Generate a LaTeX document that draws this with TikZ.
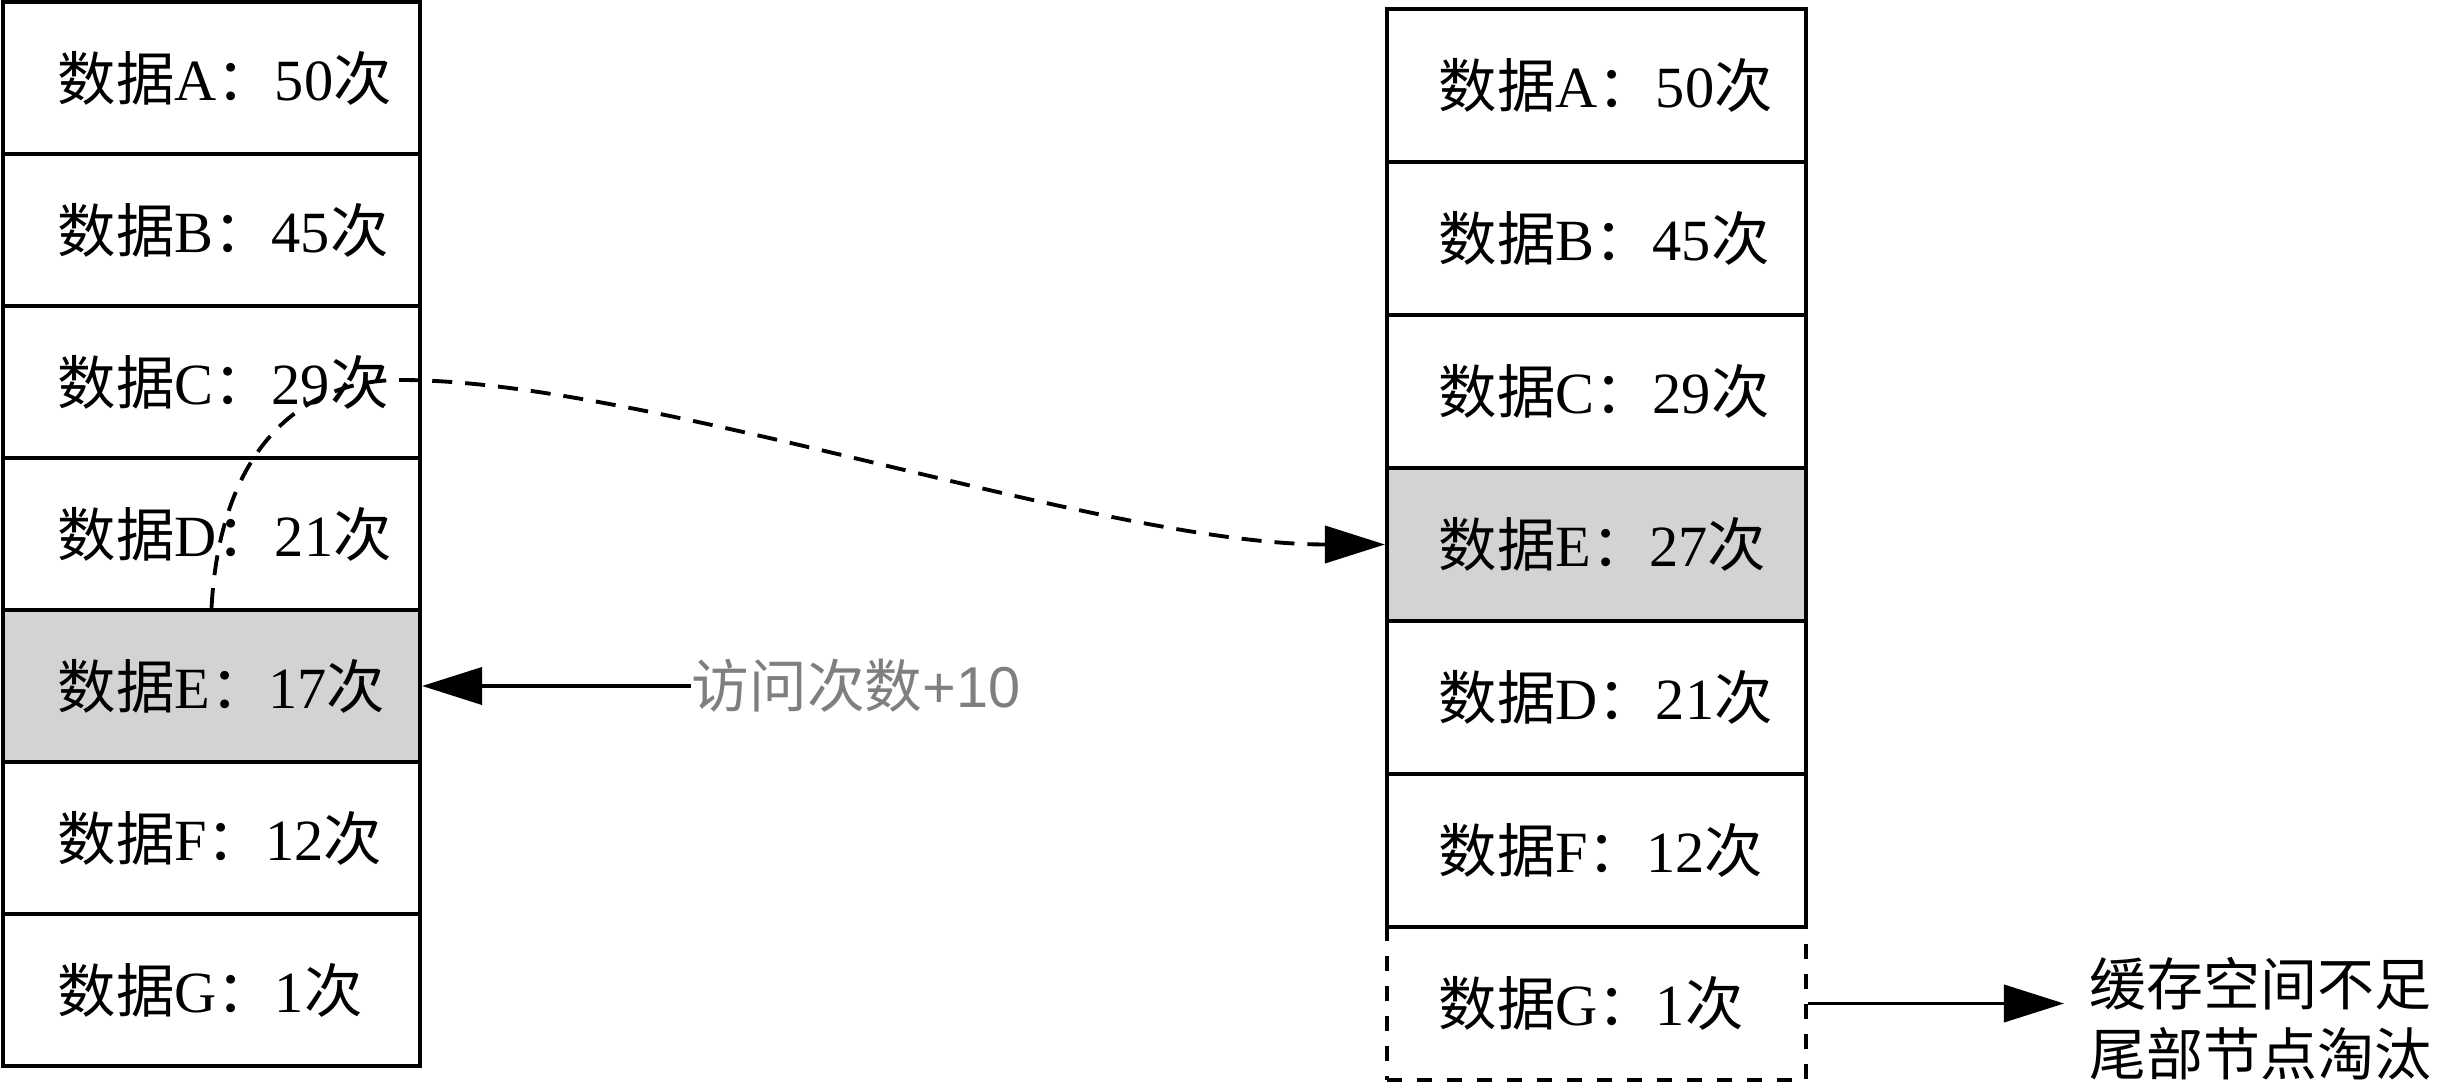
\documentclass[tikz,border=0pt]{standalone}
\usepackage{fontspec}
\setmainfont{Liberation Serif}
\newfontfamily\cjk{Noto Sans CJK SC}
\newfontfamily\labfont{Liberation Sans}
\usetikzlibrary{arrows.meta}
\definecolor{hotgray}{HTML}{D3D3D3}
\definecolor{labgray}{HTML}{7F7F7F}
\newcommand\dtxt[2]{{\cjk 数据}#1{\cjk ：}#2{\cjk 次}}
\begin{document}
\begin{tikzpicture}[x=0.01cm,y=-0.01cm,
  lcell/.style={draw=black, line width=1.1pt, minimum width=4.17cm, minimum height=1.52cm, inner sep=0pt},
  rcell/.style={draw=black, line width=1.1pt, minimum width=4.19cm, minimum height=1.53cm, inner sep=0pt},
  hot/.style={fill=hotgray},
  gone/.style={dash pattern=on 1.5mm off 1.5mm},
  ltxt/.style={anchor=west, inner sep=0pt, xshift=0.56cm, font=\fontsize{16.6pt}{20pt}\selectfont},
  rtxt/.style={anchor=west, inner sep=0pt, xshift=0.53cm, font=\fontsize{16.6pt}{20pt}\selectfont},
  arr/.style={line width=1.1pt, -{Triangle[length=6mm,width=3.7mm]}},
]
\useasboundingbox (0,0) rectangle (2439,1083);
% left column
\node[lcell] (L1) at (211.5,78) {};
\node[lcell] (L2) at (211.5,230) {};
\node[lcell] (L3) at (211.5,382) {};
\node[lcell] (L4) at (211.5,534) {};
\node[lcell,hot] (L5) at (211.5,686) {};
\node[lcell] (L6) at (211.5,838) {};
\node[lcell] (L7) at (211.5,990) {};
\node[ltxt] (L1t) at (L1.west) {\dtxt{A}{50}};
\node[ltxt] (L2t) at (L2.west) {\dtxt{B}{45}};
\node[ltxt] (L3t) at (L3.west) {\dtxt{C}{29}};
\node[ltxt] (L4t) at (L4.west) {\dtxt{D}{21}};
\node[ltxt] (L5t) at (L5.west) {\dtxt{E}{17}};
\node[ltxt] (L6t) at (L6.west) {\dtxt{F}{12}};
\node[ltxt] (L7t) at (L7.west) {\dtxt{G}{1}};
% right column
\node[rcell] (R1) at (1596.5,85.5) {};
\node[rcell] (R2) at (1596.5,238.5) {};
\node[rcell] (R3) at (1596.5,391.5) {};
\node[rcell,hot] (R4) at (1596.5,544.5) {};
\node[rcell] (R5) at (1596.5,697.5) {};
\node[rcell] (R6) at (1596.5,850.5) {};
\node[rcell,gone] (R7) at (1596.5,1003.5) {};
\node[rtxt] (R1t) at (R1.west) {\dtxt{A}{50}};
\node[rtxt] (R2t) at (R2.west) {\dtxt{B}{45}};
\node[rtxt] (R3t) at (R3.west) {\dtxt{C}{29}};
\node[rtxt] (R4t) at (R4.west) {\dtxt{E}{27}};
\node[rtxt] (R5t) at (R5.west) {\dtxt{D}{21}};
\node[rtxt] (R6t) at (R6.west) {\dtxt{F}{12}};
\node[rtxt] (R7t) at (R7.west) {\dtxt{G}{1}};
% labels
\node[anchor=west, inner sep=0pt, text=labgray, font=\fontsize{16.4pt}{20pt}\selectfont] (lab) at (691,686) {{\cjk 访问次数}{\labfont +10}};
\node[anchor=west, inner xsep=0.25cm, inner ysep=0pt, align=left, font=\fontsize{16.2pt}{19.9pt}\selectfont\cjk] (note) at (2064,1019) {缓存空间不足\\尾部节点淘汰};
% connectors
\draw[arr] (lab.west) -- (L5.east);
\draw[arr] (R7.east) -- (R7.east -| note.west);
\coordinate (peak) at (400,380);
\draw[arr, dash pattern=on 2mm off 1.3mm] (L5.north) .. controls (220,450) and (300,380) .. (peak) .. controls (650,380) and (1100,544.5) .. (R4.west);
\end{tikzpicture}
\end{document}
